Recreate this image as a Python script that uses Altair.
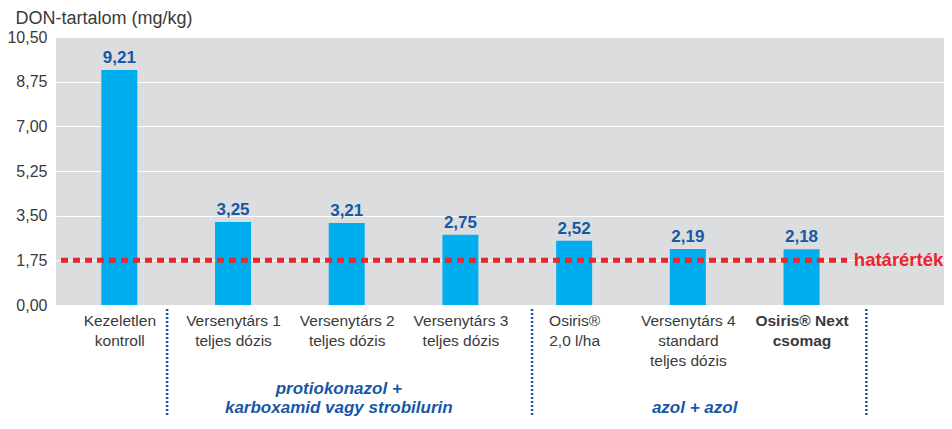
import altair as alt
import pandas as pd
import json

categories_lines = [
    ["Kezeletlen", "kontroll"],
    ["Versenytárs 1", "teljes dózis"],
    ["Versenytárs 2", "teljes dózis"],
    ["Versenytárs 3", "teljes dózis"],
    ["Osiris®", "2,0 l/ha"],
    ["Versenytárs 4", "standard", "teljes dózis"],
    ["Osiris® Next", "csomag"],
]
values = [9.21, 3.25, 3.21, 2.75, 2.52, 2.19, 2.18]
value_labels = ["9,21", "3,25", "3,21", "2,75", "2,52", "2,19", "2,18"]
y_ticks = [0, 1.75, 3.5, 5.25, 7.0, 8.75, 10.5]
threshold = 1.75
threshold_label = "határérték"
separators = [0.42, 3.63, 6.57]
group_labels = ["protiokonazol +\nkarboxamid vagy strobilurin", "azol + azol"]
group_centers = [1.93, 5.06]

idx = list(range(len(values)))
df = pd.DataFrame({"i": idx, "v": values, "lab": value_labels})

BAR = "#00aeef"
BLUE = "#1757a6"
RED = "#e8262b"
GRAY_TXT = "#3a3a3a"
FONT = "Liberation Sans"

xdom = [-0.513, 7.209]
xscale = alt.Scale(domain=xdom, nice=False, zero=False)
yscale = alt.Scale(domain=[0, 10.5], nice=False)

label_expr = json.dumps(categories_lines, ensure_ascii=False) + "[datum.value]"

base = alt.Chart(df)

bars = base.mark_bar(color=BAR, size=36).encode(
    x=alt.X("i:Q", scale=xscale, axis=alt.Axis(
        values=idx, labelExpr=label_expr, title=None, domain=False, ticks=False,
        grid=False, labelFont=FONT, labelFontSize=15.5, labelColor=GRAY_TXT,
        labelLineHeight=20, labelPadding=8, labelBaseline="top",
        labelFontWeight=alt.ExprRef(expr="datum.value == 6 ? 'bold' : 'normal'"),
    )),
    y=alt.Y("v:Q", scale=yscale, axis=alt.Axis(
        values=y_ticks, labelExpr="replace(format(datum.value, '.2f'), '.', ',')",
        domain=False, ticks=False, gridColor="white", gridWidth=1, gridOpacity=1,
        labelFont=FONT, labelFontSize=16, labelColor=GRAY_TXT, labelPadding=9,
        title="DON-tartalom (mg/kg)", titleAngle=0, titleX=-41, titleY=-14,
        titleAlign="left", titleBaseline="alphabetic", titleFont=FONT,
        titleFontSize=18, titleFontWeight="normal", titleColor=GRAY_TXT,
    )),
)

vlabels = base.mark_text(font=FONT, fontSize=17, fontWeight="bold", color=BLUE,
                         baseline="bottom", dy=-3).encode(
    x=alt.X("i:Q", scale=xscale), y=alt.Y("v:Q", scale=yscale), text="lab:N")

tdf = pd.DataFrame({"y": [threshold], "x0": [xdom[0]], "x1": [6.40], "xt": [6.46],
                    "t": [threshold_label]})
trule = alt.Chart(tdf).mark_rule(color=RED, strokeWidth=5, strokeDash=[7, 5]).encode(
    x=alt.X("x0:Q", scale=xscale), x2="x1:Q", y=alt.Y("y:Q", scale=yscale))
ttext = alt.Chart(tdf).mark_text(color=RED, font=FONT, fontSize=18.5, fontWeight="bold",
                                 align="left", baseline="middle").encode(
    x=alt.X("xt:Q", scale=xscale), y=alt.Y("y:Q", scale=yscale), text="t:N")

sdf = pd.DataFrame({"s": separators})
seps = alt.Chart(sdf).mark_rule(color=BLUE, strokeWidth=2.5, strokeDash=[2, 2]).encode(
    x=alt.X("s:Q", scale=xscale), y=alt.value(272), y2=alt.value(380))

gdf = pd.DataFrame({"g": group_labels, "c": group_centers, "k": [0, 1]})
gstyle = dict(color=BLUE, font=FONT, fontSize=17, fontWeight="bold",
              fontStyle="italic", baseline="top", lineBreak="\n", lineHeight=19)
gtext1 = alt.Chart(gdf).transform_filter("datum.k == 0").mark_text(**gstyle).encode(
    x=alt.X("c:Q", scale=xscale), y=alt.value(344), text="g:N")
gtext2 = alt.Chart(gdf).transform_filter("datum.k == 1").mark_text(**gstyle).encode(
    x=alt.X("c:Q", scale=xscale), y=alt.value(363), text="g:N")

chart = alt.layer(bars, trule, vlabels, ttext, seps, gtext1, gtext2).properties(
    width=888, height=268,
    autosize=alt.AutoSizeParams(type="none"),
    padding={"left": 48, "top": 29, "right": 0, "bottom": 115},
).configure_view(fill="#dcdddf", stroke=None)

chart.save("out.html", embed_options={"renderer": "svg", "actions": False})
